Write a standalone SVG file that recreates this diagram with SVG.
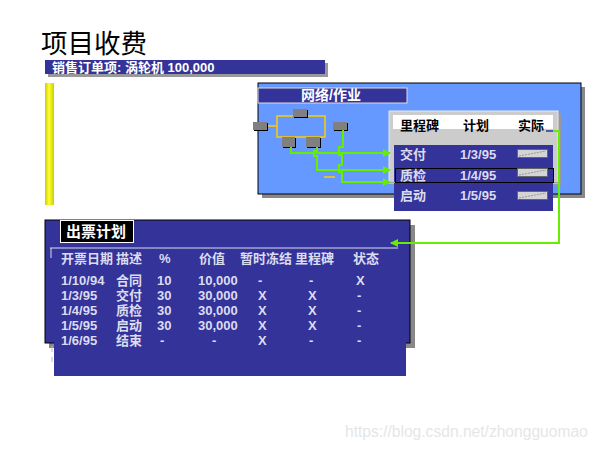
<svg xmlns="http://www.w3.org/2000/svg" width="600" height="450" viewBox="0 0 600 450">
<style>
.cjk{font-family:"Liberation Sans","Noto Sans CJK SC",sans-serif;font-weight:bold}
.lt{fill:#DCDCF0;font-size:13px}
.hd{fill:#000;font-size:13px}
.wt{fill:#fff}
.gr{fill:none;stroke:#66EE00;stroke-width:2}
.btn{fill:#D4D4D4;stroke:#666;stroke-width:1}
.navy{fill:#333399}
</style>
<defs>
<linearGradient id="yel" x1="0" y1="0" x2="1" y2="0">
<stop offset="0" stop-color="#CCCC00"/><stop offset="0.45" stop-color="#FFFF33"/><stop offset="1" stop-color="#CCCC00"/>
</linearGradient>
<marker id="ar" viewBox="0 0 8 8" refX="7" refY="4" markerWidth="9" markerHeight="8" markerUnits="userSpaceOnUse" orient="auto">
<path d="M0,0 L8,4 L0,8 z" fill="#66EE00"/>
</marker>
</defs>
<rect width="600" height="450" fill="#fff"/>

<g id="title">
<text x="41" y="53" font-family="Noto Sans CJK SC,sans-serif" font-size="26.5" fill="#000">项目收费</text>
</g>

<g id="subtitle">
<rect x="48" y="63" width="280" height="14" fill="#999"/>
<rect x="45" y="60" width="280" height="14" class="navy"/>
<text x="52" y="72" class="cjk wt" font-size="13">销售订单项: 涡轮机 100,000</text>
</g>

<g id="yellow-bar">
<rect x="45" y="83" width="9" height="122" fill="url(#yel)"/>
</g>

<g id="network-panel">
<rect x="262" y="87" width="323" height="111" fill="#888"/>
<rect x="258" y="83" width="323" height="111" fill="#6699FF" stroke="#000" stroke-width="1"/>
<rect x="258" y="88" width="149" height="15" class="navy" stroke="#ddd" stroke-width="1"/>
<text x="331" y="100" text-anchor="middle" class="cjk wt" font-size="14">网络/作业</text>
<line x1="267" y1="126" x2="277" y2="126" stroke="#FFCC00" stroke-width="1.5"/>
<rect x="277" y="116" width="48" height="21" fill="none" stroke="#FFCC00" stroke-width="1.5"/>
<line x1="324" y1="177" x2="335" y2="177" stroke="#FFCC00" stroke-width="1.5"/>
<g fill="#000">
<rect x="294" y="110" width="14" height="8"/>
<rect x="254" y="123" width="14" height="8"/>
<rect x="334" y="123" width="14" height="8"/>
<rect x="283" y="138" width="13" height="10"/>
<rect x="307" y="138" width="14" height="10"/>
</g>
<g fill="#808080">
<rect x="293" y="109" width="14" height="8"/>
<rect x="253" y="122" width="14" height="8"/>
<rect x="333" y="122" width="14" height="8"/>
<rect x="282" y="137" width="13" height="10"/>
<rect x="306" y="137" width="14" height="10"/>
</g>
</g>

<g id="milestone-panel">
<rect x="392" y="114" width="169" height="72" fill="#999"/>
<rect x="389" y="111" width="169" height="72" fill="#CCCCCC" stroke="#E8E8E8" stroke-width="1"/>
<rect x="393" y="115" width="160" height="14" fill="#fff"/>
<text x="400" y="130" class="cjk hd">里程碑</text>
<text x="463" y="130" class="cjk hd">计划</text>
<text x="518" y="130" class="cjk hd">实际</text>
<rect x="394" y="145" width="159" height="66" class="navy"/>
<line x1="389" y1="182.5" x2="558" y2="182.5" stroke="#A0A0A0" stroke-width="1"/>
<rect x="395.5" y="168.5" width="158" height="14" fill="none" stroke="#000" stroke-width="1"/>
<text x="400" y="159" class="cjk lt">交付</text>
<text x="460" y="159" class="cjk lt">1/3/95</text>
<text x="400" y="180" class="cjk lt">质检</text>
<text x="460" y="180" class="cjk lt">1/4/95</text>
<text x="400" y="200" class="cjk lt">启动</text>
<text x="460" y="200" class="cjk lt">1/5/95</text>
<rect x="517.5" y="149.5" width="30" height="8" class="btn"/>
<line x1="519" y1="156" x2="546" y2="151" stroke="#999" stroke-dasharray="2,1"/>
<rect x="517.5" y="168.5" width="30" height="8" class="btn"/>
<line x1="519" y1="175" x2="546" y2="170" stroke="#999" stroke-dasharray="2,1"/>
<rect x="517.5" y="191.5" width="30" height="8" class="btn"/>
<line x1="519" y1="198" x2="546" y2="193" stroke="#999" stroke-dasharray="2,1"/>
</g>

<g id="billing-panel">
<rect x="49" y="225" width="366" height="123" fill="#888"/>
<rect x="45" y="220" width="365" height="123" class="navy" stroke="#000" stroke-width="1"/>
<rect x="60.5" y="220.5" width="73" height="22" fill="#000" stroke="#fff" stroke-width="1"/>
<text x="66" y="237" class="cjk wt" font-size="15">出票计划</text>
<rect x="54" y="250" width="352" height="126" class="navy"/>
<line x1="50" y1="248" x2="398" y2="248" stroke="#DDDDEE" stroke-width="1"/>
<line x1="51" y1="248" x2="51" y2="258" stroke="#DDDDEE" stroke-width="1"/>
<line x1="52" y1="346" x2="52" y2="352" stroke="#BBB" stroke-width="1"/>
<line x1="52" y1="357" x2="52" y2="362" stroke="#BBB" stroke-width="1"/>
<g class="cjk lt">
<text x="61" y="263">开票日期</text>
<text x="116" y="263">描述</text>
<text x="159" y="263">%</text>
<text x="199" y="263">价值</text>
<text x="240" y="263">暂时冻结</text>
<text x="295" y="263">里程碑</text>
<text x="353" y="263">状态</text>

<text x="61" y="285">1/10/94</text>
<text x="116" y="285">合同</text>
<text x="157" y="285">10</text>
<text x="198" y="285">10,000</text>
<text x="258" y="285">-</text>
<text x="309" y="285">-</text>
<text x="356" y="285">X</text>

<text x="61" y="300">1/3/95</text>
<text x="116" y="300">交付</text>
<text x="157" y="300">30</text>
<text x="198" y="300">30,000</text>
<text x="258" y="300">X</text>
<text x="308" y="300">X</text>
<text x="357" y="300">-</text>

<text x="61" y="315">1/4/95</text>
<text x="116" y="315">质检</text>
<text x="157" y="315">30</text>
<text x="198" y="315">30,000</text>
<text x="258" y="315">X</text>
<text x="308" y="315">X</text>
<text x="357" y="315">-</text>

<text x="61" y="330">1/5/95</text>
<text x="116" y="330">启动</text>
<text x="157" y="330">30</text>
<text x="198" y="330">30,000</text>
<text x="258" y="330">X</text>
<text x="308" y="330">X</text>
<text x="357" y="330">-</text>

<text x="61" y="345">1/6/95</text>
<text x="116" y="345">结束</text>
<text x="160" y="345">-</text>
<text x="212" y="345">-</text>
<text x="258" y="345">X</text>
<text x="309" y="345">-</text>
<text x="357" y="345">-</text>
</g>
</g>

<g id="connectors">
<path class="gr" d="M291,147 V153 H390" marker-end="url(#ar)"/>
<path class="gr" d="M317,147 V151 H314 V156 H317 V170 H390" marker-end="url(#ar)"/>
<path class="gr" d="M343,130 V147 H339 V155 H342 V165 H339 V172 H342 V182 H390" marker-end="url(#ar)"/>
<line x1="546" y1="131" x2="553" y2="131" stroke="#333399" stroke-width="1.5"/>
<path class="gr" d="M553,131 H559 V243 H391" marker-end="url(#ar)"/>
</g>

<text x="345" y="437" font-family="Liberation Sans,sans-serif" font-size="15.6" fill="#E6E6E6">https://blog.csdn.net/zhongguomao</text>
</svg>
